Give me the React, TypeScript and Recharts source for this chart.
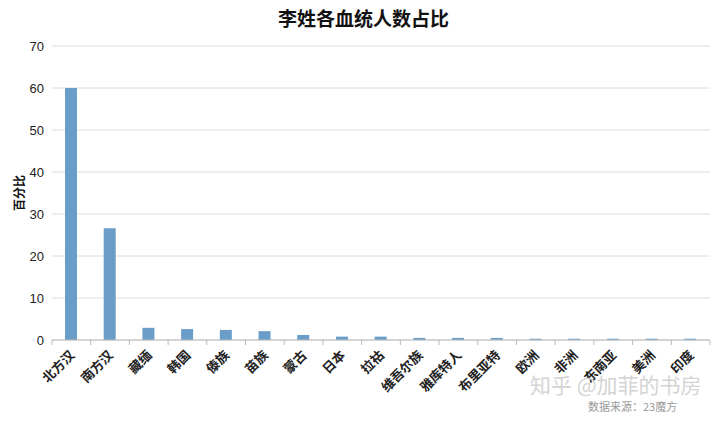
import { BarChart, Bar, XAxis, YAxis, CartesianGrid, Label } from 'recharts';

const categories = ['北方汉', '南方汉', '藏缅', '韩国', '傣族', '苗族', '蒙古', '日本', '拉祜', '维吾尔族', '雅库特人', '布里亚特', '欧洲', '非洲', '东南亚', '美洲', '印度'];
const percents = [60, 26.6, 2.9, 2.6, 2.4, 2.1, 1.2, 0.8, 0.8, 0.5, 0.5, 0.5, 0.3, 0.3, 0.3, 0.3, 0.3];
const yTicks = [0, 10, 20, 30, 40, 50, 60, 70];

const data = categories.map((name, i) => ({ name, value: percents[i] }));

const BAND = 658 / categories.length;

const CategoryTick = (props: any) => {
  const { x, y, payload, index } = props;
  const isLast = index === categories.length - 1;
  return (
    <g>
      <line x1={x - BAND / 2} y1={y - 8} x2={x - BAND / 2} y2={y - 3} stroke="#bbb" />
      {isLast && <line x1={x + BAND / 2} y1={y - 8} x2={x + BAND / 2} y2={y - 3} stroke="#bbb" />}
      <text
        x={x + 4}
        y={y + 8}
        transform={`rotate(-45, ${x + 4}, ${y + 8})`}
        textAnchor="end"
        fontSize={13}
        fontWeight="bold"
        fill="#222"
        fontFamily="'Noto Sans CJK SC', sans-serif"
      >
        {payload.value}
      </text>
    </g>
  );
};

const App = () => {
  return (
    <div style={{ position: 'absolute', left: 0, top: 0, width: 727, height: 422, background: '#fff' }}>
      <div
        style={{
          position: 'absolute',
          top: 6,
          left: 0,
          width: 727,
          textAlign: 'center',
          fontSize: 19,
          fontWeight: 'bold',
          color: '#111',
          fontFamily: "'Noto Sans CJK SC', sans-serif",
          lineHeight: '24px',
        }}
      >
        李姓各血统人数占比
      </div>
      <BarChart width={727} height={422} data={data} margin={{ top: 46, right: 17, bottom: 22, left: 0 }}>
        <CartesianGrid vertical={false} stroke="#dcdcdc" />
        <XAxis
          dataKey="name"
          interval={0}
          height={60}
          tickLine={false}
          axisLine={{ stroke: '#bbb' }}
          tick={<CategoryTick />}
        />
        <YAxis
          width={52}
          domain={[0, 70]}
          ticks={yTicks}
          axisLine={false}
          tickLine={false}
          tickSize={0}
          tickMargin={8}
          tick={{ fontSize: 13, fill: '#222', fontFamily: 'Arial, Helvetica, sans-serif' }}
        >
          <Label
            content={(p: any) => {
              const vb = p.viewBox;
              const cx = 18;
              const cy = vb.y + vb.height / 2;
              return (
                <text
                  x={cx}
                  y={cy}
                  transform={`rotate(-90, ${cx}, ${cy})`}
                  textAnchor="middle"
                  dominantBaseline="central"
                  fontSize={12}
                  fontWeight="bold"
                  fill="#111"
                  fontFamily="'Noto Sans CJK SC', sans-serif"
                >
                  百分比
                </text>
              );
            }}
          />
        </YAxis>
        <Bar dataKey="value" fill="#6a9ec9" barSize={12} isAnimationActive={false} />
      </BarChart>
      <div
        style={{
          position: 'absolute',
          left: 530,
          top: 371,
          fontSize: 21,
          color: '#d4d4d4',
          fontFamily: "'Noto Sans CJK SC', sans-serif",
          whiteSpace: 'nowrap',
          lineHeight: '26px',
        }}
      >
        知乎 @加菲的书房
      </div>
      <div
        style={{
          position: 'absolute',
          left: 588,
          top: 399,
          fontSize: 11,
          color: '#999',
          fontFamily: "'Noto Sans CJK SC', sans-serif",
          whiteSpace: 'nowrap',
          lineHeight: '14px',
        }}
      >
        数据来源：23魔方
      </div>
    </div>
  );
};

export default App;
